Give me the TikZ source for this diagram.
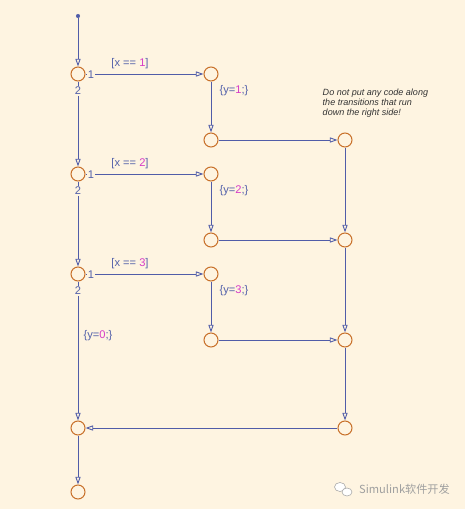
\documentclass[tikz,border=0pt]{standalone}
\usepackage{fontspec}
\setsansfont{Liberation Sans}
\newfontfamily\cjkfont{Noto Sans CJK SC}
\usetikzlibrary{arrows.meta, positioning}

\definecolor{paper}{RGB}{254,244,225}
\definecolor{wire}{RGB}{80,92,168}
\definecolor{ink}{RGB}{82,96,170}
\definecolor{num}{RGB}{214,60,200}
\definecolor{ring}{RGB}{200,112,42}

\begin{document}
\begin{tikzpicture}[
    x=0.03cm, y=-0.03cm,
    >={Triangle[open, length=6.5pt, width=4.4pt]},
    junc/.style={circle, draw=ring, line width=0.9pt, minimum size=0.42cm,
                 inner sep=0pt},
    tr/.style={->, wire, line width=0.75pt},
    lbl/.style={text=ink, font=\sffamily\fontsize{9.5}{11}\selectfont},
    prio/.style={lbl, fill=paper, inner sep=1pt}
  ]
  \fill[paper] (0,0) rectangle (465,509);
  \useasboundingbox (0,0) rectangle (465,509);

  % default transition dot
  \node[circle, fill=wire, inner sep=0pt, minimum size=3.5pt] (s) at (78,16) {};

  % left column
  \foreach \i/\y in {1/74, 2/174, 3/274, 4/428, 5/492}
    \node[junc] (a\i) at (78,\y) {};

  % middle column (top / bottom of each branch)
  \foreach \i/\yt/\yb in {1/74/140, 2/174/240, 3/274/340} {
    \node[junc] (t\i) at (211,\yt) {};
    \node[junc] (b\i) at (211,\yb) {};
  }

  % right column
  \foreach \i/\y in {1/140, 2/240, 3/340, 4/428}
    \node[junc] (r\i) at (345,\y) {};

  % transitions
  \draw[tr] (s) -- (a1);
  \foreach \i/\j in {1/2, 2/3, 3/4, 4/5}
    \draw[tr] (a\i) -- (a\j);
  \foreach \i in {1,2,3} {
    \draw[tr] (a\i) -- (t\i);
    \draw[tr] (t\i) -- (b\i);
    \draw[tr] (b\i) -- (r\i);
  }
  \foreach \i/\j in {1/2, 2/3, 3/4}
    \draw[tr] (r\i) -- (r\j);
  \draw[tr] (r4) -- (a4);

  % conditions, actions and priorities
  \foreach \i/\y in {1/74, 2/174, 3/274} {
    \node[lbl] at (130,\y-10) {[x == \textcolor{num}{\i}]};
    \node[lbl] at (234,\y+17) {\{y=\textcolor{num}{\i};\}};
    \node[prio] at (91,\y+1) {1};
    \node[prio] at (78,\y+17) {2};
  }
  \node[lbl] at (98,336) {\{y=\textcolor{num}{0};\}};

  % note
  \node[anchor=north west, inner sep=0pt, align=left, text=black!80,
        font=\sffamily\itshape\fontsize{7.7}{8.7}\selectfont] (note) at (322.5,88.5)
    {Do not put any code along\\the transitions that run\\down the right side!};

  % watermark
  \draw[gray!70, fill=white, line width=0.5pt] (340,487) ellipse (5.5 and 4.5);
  \draw[gray!70, fill=white, line width=0.5pt] (347,492) ellipse (5 and 4);
  \node[anchor=west, inner sep=0pt, text=gray!75,
        font=\cjkfont\fontsize{9.5}{11}\selectfont] (mark) at (359,489)
    {Simulink软件开发};
\end{tikzpicture}
\end{document}
